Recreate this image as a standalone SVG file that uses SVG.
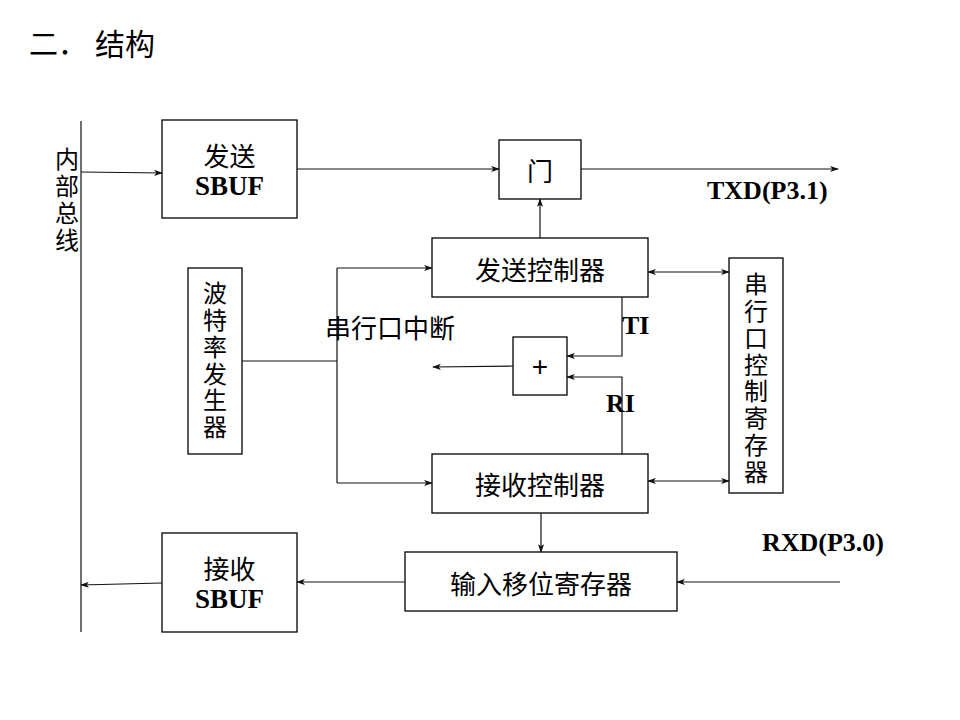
<svg xmlns="http://www.w3.org/2000/svg" width="960" height="720" viewBox="0 0 960 720">
<defs>
<style>
.box{fill:#fff;stroke:#000;stroke-width:1.3}
.ln{fill:none;stroke:#111;stroke-width:1.2}
.cjk{font-family:"Noto Sans CJK SC","Noto Sans CJK TC",sans-serif;font-size:26px;fill:#000}
.v{font-family:"Noto Sans CJK SC","Noto Sans CJK TC",sans-serif;font-size:24px;fill:#000;writing-mode:vertical-rl;letter-spacing:2.8px}
.lat{font-family:"Liberation Serif","Times New Roman",serif;font-weight:bold;font-size:26px;fill:#000}
.mid{text-anchor:middle}
</style>
<marker id="arr" viewBox="0 0 10 8" refX="9" refY="4" markerWidth="9" markerHeight="7" markerUnits="userSpaceOnUse" orient="auto-start-reverse">
<path d="M0,0.5 L10,4 L0,7.5 L2.5,4 z" fill="#111"/>
</marker>
</defs>
<rect width="960" height="720" fill="#fff"/>
<text class="cjk" x="29" y="55" style="font-size:29px">二．<tspan x="95" style="font-size:30px">结构</tspan></text>

<g id="bus">
<line class="ln" x1="81" y1="121" x2="81" y2="632"/>
<text class="v" x="67" y="147">内部总线</text>
</g>

<g id="send_sbuf">
<rect class="box" x="162" y="120" width="135" height="98"/>
<text class="cjk mid" x="229.5" y="166">发送<tspan class="lat" x="229.5" y="195" style="font-size:27px">SBUF</tspan></text>
</g>

<g id="gate">
<rect class="box" x="499" y="140" width="82" height="59"/>
<text class="cjk mid" x="540" y="169" dominant-baseline="central">门</text>
</g>

<g id="tx_ctrl">
<rect class="box" x="432" y="238" width="216" height="59"/>
<text class="cjk mid" x="540" y="268" dominant-baseline="central">发送控制器</text>
</g>

<g id="scon">
<rect class="box" x="729" y="258" width="54" height="235"/>
<text class="v" x="756" y="272">串行口控制寄存器</text>
</g>

<g id="baud">
<rect class="box" x="188" y="268" width="54" height="186"/>
<text class="v" x="215" y="281">波特率发生器</text>
</g>

<g id="or_gate">
<rect class="box" x="513" y="337" width="54" height="58"/>
<text class="mid" x="540" y="366" dominant-baseline="central" style="font-family:'Liberation Sans',sans-serif;font-size:28px">+</text>
</g>

<g id="rx_ctrl">
<rect class="box" x="432" y="454" width="216" height="59"/>
<text class="cjk mid" x="540" y="483" dominant-baseline="central">接收控制器</text>
</g>

<g id="shift_reg">
<rect class="box" x="405" y="552" width="272" height="59"/>
<text class="cjk mid" x="541" y="582" dominant-baseline="central">输入移位寄存器</text>
</g>

<g id="recv_sbuf">
<rect class="box" x="162" y="533" width="135" height="99"/>
<text class="cjk mid" x="229.5" y="579">接收<tspan class="lat" x="229.5" y="608" style="font-size:27px">SBUF</tspan></text>
</g>

<g id="labels">
<text class="lat" x="707" y="199">TXD(P3.1)</text>
<text class="lat" x="762" y="551">RXD(P3.0)</text>
<text class="lat" x="622" y="334">TI</text>
<text class="lat" x="606" y="412">RI</text>
<text class="cjk" x="325" y="326" dominant-baseline="central">串行口中断</text>
</g>

<g id="connectors">
<line class="ln" x1="81" y1="172" x2="162" y2="173" marker-end="url(#arr)"/>
<line class="ln" x1="297" y1="169" x2="499" y2="169" marker-end="url(#arr)"/>
<line class="ln" x1="581" y1="169" x2="838" y2="169" marker-end="url(#arr)"/>
<line class="ln" x1="540" y1="238" x2="540" y2="199" marker-end="url(#arr)"/>
<line class="ln" x1="648" y1="272" x2="729" y2="272" marker-start="url(#arr)" marker-end="url(#arr)"/>
<line class="ln" x1="648" y1="481" x2="729" y2="481" marker-start="url(#arr)" marker-end="url(#arr)"/>
<line class="ln" x1="242" y1="361" x2="337" y2="361"/>
<line class="ln" x1="337" y1="268" x2="337" y2="483"/>
<line class="ln" x1="337" y1="268" x2="432" y2="268" marker-end="url(#arr)"/>
<line class="ln" x1="337" y1="483" x2="432" y2="483" marker-end="url(#arr)"/>
<path class="ln" d="M622,297 V356 H567" marker-end="url(#arr)"/>
<path class="ln" d="M622,454 V377 H567" marker-end="url(#arr)"/>
<line class="ln" x1="513" y1="366" x2="433" y2="367" marker-end="url(#arr)"/>
<line class="ln" x1="541" y1="513" x2="541" y2="552" marker-end="url(#arr)"/>
<line class="ln" x1="840" y1="582" x2="677" y2="582" marker-end="url(#arr)"/>
<line class="ln" x1="405" y1="582" x2="297" y2="582" marker-end="url(#arr)"/>
<line class="ln" x1="162" y1="583" x2="81" y2="585" marker-end="url(#arr)"/>
</g>
</svg>
